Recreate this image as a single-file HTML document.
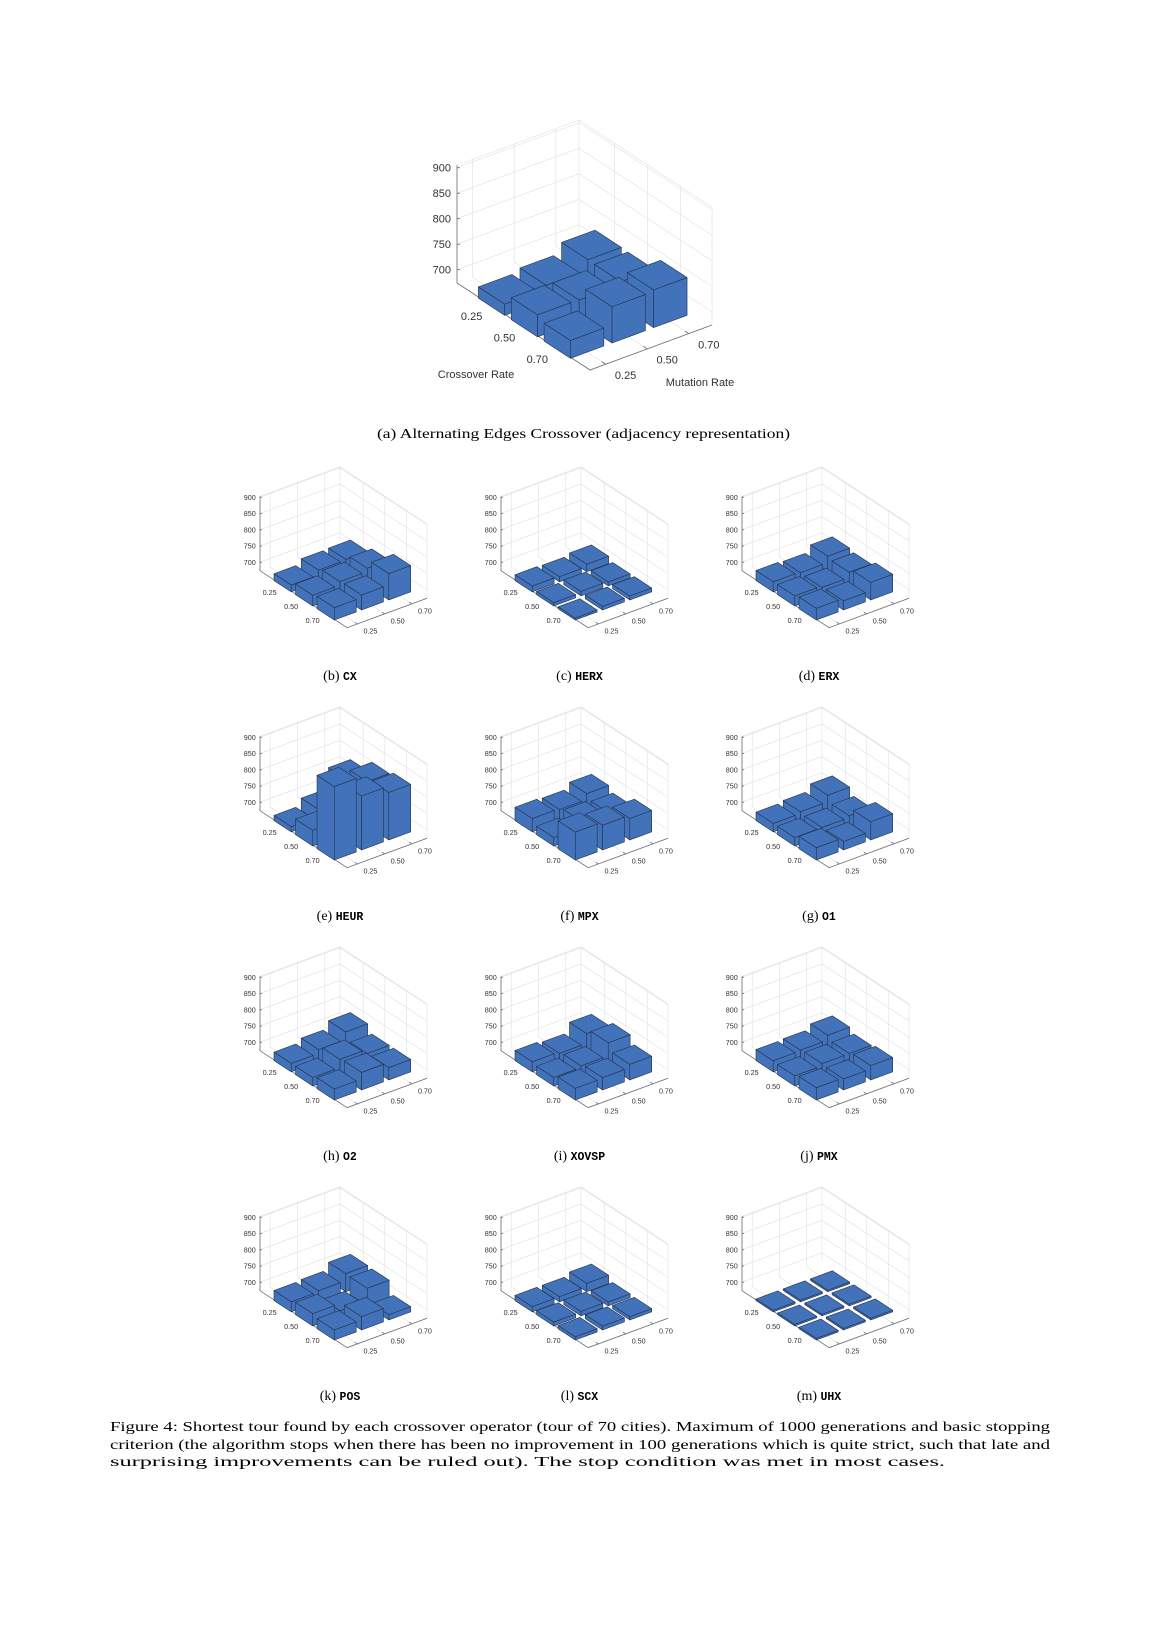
<!DOCTYPE html>
<html>
<head>
<meta charset="utf-8">
<style>
html,body{margin:0;padding:0;background:#fff;}
svg{display:block;}
.cap{font-family:"Liberation Serif",serif;font-size:14px;fill:#000;}
.mono{font-family:"Liberation Mono",monospace;font-size:11.5px;font-weight:bold;}
</style>
</head>
<body>
<svg id="page" width="1157" height="1637" viewBox="0 0 1157 1637" xmlns="http://www.w3.org/2000/svg">
<rect x="0" y="0" width="1157" height="1637" fill="#fff"/>
<g id="charts"></g>
<text class="cap" x="377" y="438" textLength="413" lengthAdjust="spacingAndGlyphs">(a) Alternating Edges Crossover (adjacency representation)</text>
<g id="captions"></g>
<text class="cap" x="110" y="1431" textLength="940" lengthAdjust="spacingAndGlyphs">Figure 4: Shortest tour found by each crossover operator (tour of 70 cities). Maximum of 1000 generations and basic stopping</text>
<text class="cap" x="110" y="1449" textLength="940" lengthAdjust="spacingAndGlyphs">criterion (the algorithm stops when there has been no improvement in 100 generations which is quite strict, such that late and</text>
<text class="cap" x="110" y="1466" textLength="835" lengthAdjust="spacingAndGlyphs">surprising improvements can be ruled out). The stop condition was met in most cases.</text>
</svg>
<script>
const crossoverLabels = ['0.25', '0.50', '0.70'];
const mutationLabels = ['0.25', '0.50', '0.70'];
const zTickValues = [700, 750, 800, 850, 900];
const subLetters = ['b','c','d','e','f','g','h','i','j','k','l','m'];
const subNames = ['CX','HERX','ERX','HEUR','MPX','O1','O2','XOVSP','PMX','POS','SCX','UHX'];
// rows = crossover rate (0.25,0.50,0.70), cols = mutation rate (0.25,0.50,0.70)
const aexValues   = [[696,703,723],[717,716,722],[709,745,748]];
const cxValues    = [[695,710,712],[707,718,728],[712,720,755]];
const herxValues  = [[692,690,697],[684,688,686],[680,685,686]];
const erxValues   = [[705,702,722],[705,700,716],[710,702,728]];
const heurValues  = [[690,712,775],[722,760,810],[900,840,820]];
const mpxValues   = [[715,712,730],[700,720,715],[760,750,740]];
const o1Values    = [[700,705,725],[700,700,705],[712,700,730]];
const o2Values    = [[700,712,735],[700,725,712],[708,728,712]];
const xovspValues = [[705,700,730],[700,705,745],[710,712,722]];
const pmxValues   = [[708,710,725],[705,712,712],[712,708,718]];
const posValues   = [[705,708,730],[712,690,728],[705,715,690]];
const scxValues   = [[690,690,700],[686,688,686],[684,686,684]];
const uhxValues   = [[679,679,679],[679,679,679],[679,679,679]];

const NS = 'http://www.w3.org/2000/svg';
function el(tag, attrs, parent){
  const e = document.createElementNS(NS, tag);
  for (const k in attrs) e.setAttribute(k, attrs[k]);
  parent.appendChild(e);
  return e;
}
function pts(arr){ return arr.map(p => p[0].toFixed(2)+','+p[1].toFixed(2)).join(' '); }

function drawChart(parent, values, o, name){
  const g = el('g', {}, parent);
  
  
  const proj = (a, b, z) => [o.Lx + o.s*(133*a + 122*b), o.Ly + o.s*(87*a - 45*b) - o.k*(z - o.z0)];
  const aPos = i => 0.268 + 0.247*i;
  const bPos = j => 0.128 + 0.341*j;
  const ha = 0.099, hb = 0.137;
  const gridC = '#e4e4e4', gw = 0.7;
  const gridG = el('g', {stroke: gridC, 'stroke-width': gw, fill: 'none'}, g);
  
  
  zTickValues.forEach(z => {
    const p1 = proj(0,0,z), p2 = proj(0,1,z), p3 = proj(1,1,z);
    el('polyline', {points: pts([p1,p2,p3])}, gridG);
  });
  const topPts = [proj(0,0,o.ztop), proj(0,1,o.ztop), proj(1,1,o.ztop)];
  el('polyline', {points: pts(topPts)}, gridG);
  el('line', {x1: proj(0,1,o.z0)[0], y1: proj(0,1,o.z0)[1], x2: proj(0,1,o.ztop)[0], y2: proj(0,1,o.ztop)[1]}, gridG);
  el('line', {x1: proj(1,1,o.z0)[0], y1: proj(1,1,o.z0)[1], x2: proj(1,1,o.ztop)[0], y2: proj(1,1,o.ztop)[1]}, gridG);
  for (let j = 0; j < 3; j++){
    const b = bPos(j);
    el('polyline', {points: pts([proj(1,b,o.z0), proj(0,b,o.z0), proj(0,b,o.ztop)])}, gridG);
  }
  for (let i = 0; i < 3; i++){
    const a = aPos(i);
    el('polyline', {points: pts([proj(a,0,o.z0), proj(a,1,o.z0), proj(a,1,o.ztop)])}, gridG);
  }
  const axG = el('g', {stroke: '#6a6a6a', 'stroke-width': 0.8, fill: 'none'}, g);
  
  
  el('polyline', {points: pts([proj(0,0,o.ztop), proj(0,0,o.z0), proj(1,0,o.z0), proj(1,1,o.z0)])}, axG);
  const tl = 3*o.s;
  zTickValues.forEach(z => {
    const p = proj(0,0,z);
    el('line', {x1: p[0], y1: p[1], x2: p[0]+tl, y2: p[1]}, axG);
  });
  for (let i = 0; i < 3; i++){
    const p = proj(aPos(i),0,o.z0), q = proj(aPos(i),0.03,o.z0);
    el('line', {x1: p[0], y1: p[1], x2: q[0], y2: q[1]}, axG);
  }
  for (let j = 0; j < 3; j++){
    const p = proj(1,bPos(j),o.z0), q = proj(0.97,bPos(j),o.z0);
    el('line', {x1: p[0], y1: p[1], x2: q[0], y2: q[1]}, axG);
  }
  const lf = o.font;
  zTickValues.forEach(z => {
    const p = proj(0,0,z);
    const t = el('text', {x: p[0]-5*o.s-1, y: p[1]+lf*0.35, 'text-anchor': 'end', 'font-size': lf, fill: '#333', 'font-family': '"Liberation Sans", sans-serif'}, g);
    
    
    t.textContent = String(z);
  });
  crossoverLabels.forEach((lab, i) => {
    const p = proj(aPos(i),0,o.z0);
    const t = el('text', {x: p[0]-21*o.s, y: p[1]+10*o.s+lf*0.35, 'text-anchor': 'middle', 'font-size': lf, fill: '#333', 'font-family': '"Liberation Sans", sans-serif'}, g);
    
    
    t.textContent = lab;
  });
  mutationLabels.forEach((lab, j) => {
    const p = proj(1,bPos(j),o.z0);
    const t = el('text', {x: p[0]+20*o.s, y: p[1]+11*o.s+lf*0.35, 'text-anchor': 'middle', 'font-size': lf, fill: '#333', 'font-family': '"Liberation Sans", sans-serif'}, g);
    
    
    t.textContent = lab;
  });
  if (o.titles){
    const t1 = el('text', {x: 476, y: 378, 'text-anchor': 'middle', 'font-size': 11, fill: '#333', 'font-family': '"Liberation Sans", sans-serif'}, g);
    
    
    t1.textContent = 'Crossover Rate';
    const t2 = el('text', {x: 700, y: 386, 'text-anchor': 'middle', 'font-size': 11, fill: '#333', 'font-family': '"Liberation Sans", sans-serif'}, g);
    
    
    t2.textContent = 'Mutation Rate';
  }
  const barG = el('g', {fill: '#4272BA', stroke: '#24324a', 'stroke-width': 0.6, 'stroke-linejoin': 'round'}, g);
  
  
  for (let i = 0; i < 3; i++){
    for (let j = 2; j >= 0; j--){
      const h = values[i][j];
      const a0 = aPos(i)-ha, a1 = aPos(i)+ha, b0 = bPos(j)-hb, b1 = bPos(j)+hb;
      const bg = el('g', {}, barG);
      
      
      el('polygon', {points: pts([proj(a0,b0,o.z0), proj(a1,b0,o.z0), proj(a1,b0,h), proj(a0,b0,h)])}, bg);
      el('polygon', {points: pts([proj(a1,b0,o.z0), proj(a1,b1,o.z0), proj(a1,b1,h), proj(a1,b0,h)])}, bg);
      el('polygon', {points: pts([proj(a0,b0,h), proj(a1,b0,h), proj(a1,b1,h), proj(a0,b1,h)])}, bg);
    }
  }
}

const chartsG = document.getElementById('charts');
drawChart(chartsG, aexValues, {Lx: 457, Ly: 283, s: 1, k: 0.51, z0: 674, ztop: 905, font: 11, titles: true}, 'chart-a-aex');
const smallValues = [cxValues, herxValues, erxValues, heurValues, mpxValues, o1Values, o2Values, xovspValues, pmxValues, posValues, scxValues, uhxValues];
const capG = document.getElementById('captions');
smallValues.forEach((vals, n) => {
  const r = Math.floor(n/3), c = n % 3;
  drawChart(chartsG, vals, {Lx: 260 + 241*c, Ly: 570.7 + 240*r, s: 0.655, k: 0.325, z0: 674, ztop: 903, font: 7.2, titles: false}, 'chart-' + subLetters[n] + '-' + subNames[n].toLowerCase());
  const cx = 340 + 239.5*c, cy = 680 + 240*r;
  const t = el('text', {x: cx, y: cy, 'text-anchor': 'middle', class: 'cap'}, capG);
  
  
  const s1 = el('tspan', {}, t);
  s1.textContent = '(' + subLetters[n] + ') ';
  const s2 = el('tspan', {class: 'mono'}, t);
  s2.textContent = subNames[n];
});
</script>
</body>
</html>
